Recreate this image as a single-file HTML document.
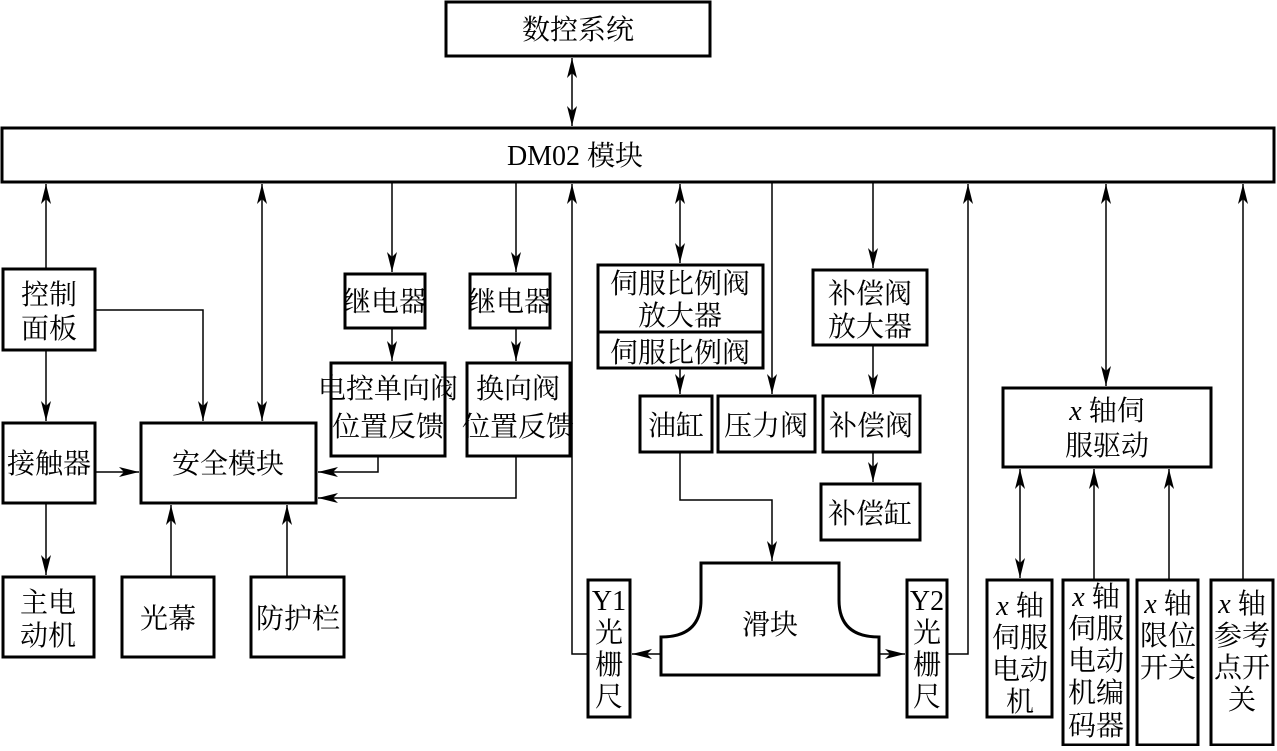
<!DOCTYPE html>
<html><head><meta charset="utf-8"><style>
html,body{margin:0;padding:0;background:#fff}
svg text{font-family:"Liberation Serif","Noto Serif CJK SC",serif;font-size:28px;fill:#000;text-anchor:middle}
</style></head><body>
<svg width="1277" height="746" viewBox="0 0 1277 746" xmlns="http://www.w3.org/2000/svg">
<defs>
<marker id="a" viewBox="0 0 20 10" refX="20" refY="5" markerWidth="20" markerHeight="10" markerUnits="userSpaceOnUse" orient="auto-start-reverse">
<path d="M0,0 L20,5 L0,10 L5,5 z" fill="#000"/>
</marker>
</defs>
<g fill="none" stroke="#000" stroke-width="3">
<rect x="446" y="2" width="264" height="54"/>
<rect x="2" y="128" width="1272" height="54"/>
<rect x="3" y="269" width="92" height="81"/>
<rect x="3" y="423" width="92" height="80"/>
<rect x="141" y="423" width="175" height="80"/>
<rect x="3" y="577" width="91" height="80"/>
<rect x="122" y="577" width="92" height="80"/>
<rect x="251" y="577" width="93" height="80"/>
<rect x="345" y="274" width="80" height="54"/>
<rect x="331" y="363" width="114" height="93"/>
<rect x="470" y="274" width="80" height="54"/>
<rect x="467" y="363" width="103" height="93"/>
<rect x="598" y="265" width="165" height="67"/>
<rect x="598" y="332" width="165" height="36"/>
<rect x="640" y="396" width="72" height="56"/>
<rect x="718" y="396" width="97" height="56"/>
<rect x="813" y="270" width="114" height="75"/>
<rect x="823" y="396" width="97" height="56"/>
<rect x="821" y="484" width="99" height="56"/>
<rect x="588" y="580" width="42" height="137"/>
<rect x="907" y="580" width="40" height="137"/>
<rect x="1003" y="388" width="208" height="79"/>
<rect x="987" y="580" width="65" height="137"/>
<rect x="1063" y="580" width="65" height="165"/>
<rect x="1137" y="580" width="61" height="165"/>
<rect x="1211" y="580" width="62" height="165"/>
<path d="M701,563 L839,563 L839,600 Q839,637 879,637 L879,675 L661,675 L661,637 Q701,637 701,600 Z"/>
</g>
<g fill="none" stroke="#000" stroke-width="1.5">
<line x1="572" y1="58" x2="572" y2="126" marker-start="url(#a)" marker-end="url(#a)"/>
<line x1="46" y1="269" x2="46" y2="184" marker-end="url(#a)"/>
<line x1="46" y1="350" x2="46" y2="421" marker-end="url(#a)"/>
<polyline points="95,310 203,310 203,421" marker-end="url(#a)"/>
<line x1="262" y1="184" x2="262" y2="421" marker-start="url(#a)" marker-end="url(#a)"/>
<line x1="95" y1="472" x2="139" y2="472" marker-end="url(#a)"/>
<line x1="46" y1="503" x2="46" y2="575" marker-end="url(#a)"/>
<line x1="171" y1="577" x2="171" y2="505" marker-end="url(#a)"/>
<line x1="287" y1="577" x2="287" y2="505" marker-end="url(#a)"/>
<line x1="392" y1="182" x2="392" y2="272" marker-end="url(#a)"/>
<line x1="392" y1="328" x2="392" y2="361" marker-end="url(#a)"/>
<polyline points="378,456 378,472 318,472" marker-end="url(#a)"/>
<line x1="516" y1="182" x2="516" y2="272" marker-end="url(#a)"/>
<line x1="516" y1="328" x2="516" y2="361" marker-end="url(#a)"/>
<polyline points="516,456 516,498 318,498" marker-end="url(#a)"/>
<polyline points="588,654 572,654 572,184" marker-end="url(#a)"/>
<line x1="661" y1="654" x2="632" y2="654" marker-end="url(#a)"/>
<line x1="680" y1="184" x2="680" y2="263" marker-start="url(#a)" marker-end="url(#a)"/>
<line x1="680" y1="368" x2="680" y2="394" marker-end="url(#a)"/>
<line x1="772" y1="182" x2="772" y2="394" marker-end="url(#a)"/>
<polyline points="680,452 680,500 772,500 772,561" marker-end="url(#a)"/>
<line x1="873" y1="182" x2="873" y2="268" marker-end="url(#a)"/>
<line x1="873" y1="345" x2="873" y2="394" marker-end="url(#a)"/>
<line x1="873" y1="452" x2="873" y2="482" marker-end="url(#a)"/>
<line x1="879" y1="654" x2="905" y2="654" marker-end="url(#a)"/>
<polyline points="947,654 968,654 968,184" marker-end="url(#a)"/>
<line x1="1106" y1="184" x2="1106" y2="386" marker-start="url(#a)" marker-end="url(#a)"/>
<line x1="1020" y1="469" x2="1020" y2="578" marker-start="url(#a)" marker-end="url(#a)"/>
<line x1="1094" y1="580" x2="1094" y2="469" marker-end="url(#a)"/>
<line x1="1169" y1="580" x2="1169" y2="469" marker-end="url(#a)"/>
<line x1="1243" y1="580" x2="1243" y2="184" marker-end="url(#a)"/>
</g>
<g>
<text x="578" y="39">数控系统</text>
<text x="575" y="165">DM02 模块</text>
<text x="49" y="304">控制</text><text x="49" y="338">面板</text>
<text x="49" y="473">接触器</text>
<text x="228" y="473">安全模块</text>
<text x="48" y="612">主电</text><text x="48" y="645">动机</text>
<text x="168" y="628">光幕</text>
<text x="298" y="628">防护栏</text>
<text x="385" y="311">继电器</text>
<text x="510" y="311">继电器</text>
<text x="388" y="398">电控单向阀</text><text x="388" y="436">位置反馈</text>
<text x="518" y="398">换向阀</text><text x="518" y="436">位置反馈</text>
<text x="680" y="293">伺服比例阀</text><text x="680" y="325">放大器</text>
<text x="680" y="362">伺服比例阀</text>
<text x="676" y="435">油缸</text>
<text x="766" y="435">压力阀</text>
<text x="870" y="303">补偿阀</text><text x="870" y="336">放大器</text>
<text x="871" y="435">补偿阀</text>
<text x="870" y="523">补偿缸</text>
<text x="770" y="634">滑块</text>
<text x="609" y="610">Y1</text><text x="609" y="642">光</text><text x="609" y="674">栅</text><text x="609" y="706">尺</text>
<text x="927" y="610">Y2</text><text x="927" y="642">光</text><text x="927" y="674">栅</text><text x="927" y="706">尺</text>
<text x="1107" y="420"><tspan font-style="italic">x</tspan> 轴伺</text><text x="1107" y="455">服驱动</text>
<text x="1020" y="615"><tspan font-style="italic">x</tspan> 轴</text><text x="1020" y="647">伺服</text><text x="1020" y="679">电动</text><text x="1020" y="711">机</text>
<text x="1096" y="606"><tspan font-style="italic">x</tspan> 轴</text><text x="1096" y="638">伺服</text><text x="1096" y="670">电动</text><text x="1096" y="702">机编</text><text x="1096" y="735">码器</text>
<text x="1168" y="613"><tspan font-style="italic">x</tspan> 轴</text><text x="1168" y="645">限位</text><text x="1168" y="677">开关</text>
<text x="1242" y="613"><tspan font-style="italic">x</tspan> 轴</text><text x="1242" y="645">参考</text><text x="1242" y="677">点开</text><text x="1242" y="709">关</text>
</g>
</svg>
</body></html>
